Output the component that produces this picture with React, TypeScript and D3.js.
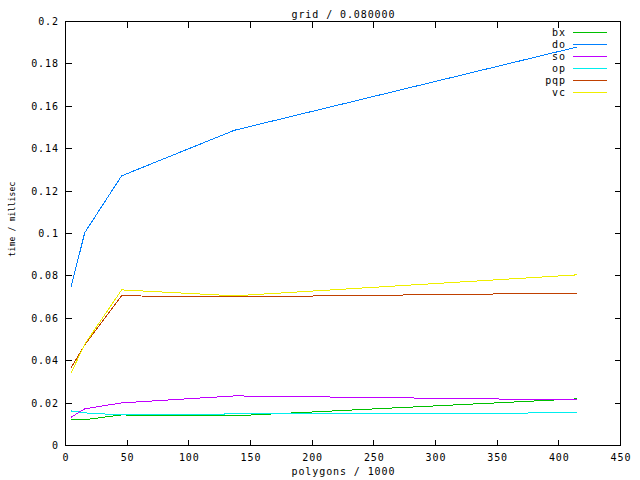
import React from "react";
import * as d3 from "d3";

const polygons = [4.5, 15.6, 45.5, 137, 415];
const bx = [0.0121, 0.0122, 0.0144, 0.014, 0.022];
const dO = [0.0747, 0.1004, 0.1272, 0.1487, 0.188];
const so = [0.0133, 0.0173, 0.0201, 0.0234, 0.0215];
const op = [0.0163, 0.0154, 0.0144, 0.0149, 0.0154];
const pqp = [0.0366, 0.0475, 0.0706, 0.0701, 0.0719];
const vc = [0.0342, 0.0478, 0.0734, 0.0706, 0.0805];

const seriesNames = ["bx", "do", "so", "op", "pqp", "vc"];
const seriesValues = [bx, dO, so, op, pqp, vc];
const seriesColors = ["#00c000", "#0080ff", "#c000ff", "#00eeee", "#c04000", "#eeee00"];

const xTicks = [0, 50, 100, 150, 200, 250, 300, 350, 400, 450];
const yTicks = [0, 0.02, 0.04, 0.06, 0.08, 0.1, 0.12, 0.14, 0.16, 0.18, 0.2];

const title = "grid / 0.080000";
const xLabel = "polygons / 1000";
const yLabel = "time / millisec";

const FONT = "'DejaVu Sans Mono', monospace";
const FS = 10;
const LS = 0.9;

export default function App() {
  const L = 65.5, R = 620.5, T = 21.5, B = 445.5;
  const x = d3.scaleLinear().domain([0, 450]).range([L, R]);
  const y = d3.scaleLinear().domain([0, 0.2]).range([B, T]);
  const line = d3
    .line<[number, number]>()
    .x((d) => x(d[0]))
    .y((d) => y(d[1]));
  const fmtY = (v: number) => (v === 0 ? "0" : String(+v.toFixed(2)));
  const tl = 6;

  return (
    <svg
      width={640}
      height={480}
      style={{ position: "fixed", left: 0, top: 0, background: "#fff" }}
      fontFamily={FONT}
    >
      <rect x={0} y={0} width={640} height={480} fill="#fff" />
      <g stroke="#000" strokeWidth={1} shapeRendering="crispEdges">
        {xTicks.map((t) => (
          <g key={"xt" + t}>
            <line x1={x(t)} x2={x(t)} y1={B} y2={B - tl} />
            <line x1={x(t)} x2={x(t)} y1={T} y2={T + tl} />
          </g>
        ))}
        {yTicks.map((t) => (
          <g key={"yt" + t}>
            <line x1={L} x2={L + tl} y1={y(t)} y2={y(t)} />
            <line x1={R} x2={R - tl} y1={y(t)} y2={y(t)} />
          </g>
        ))}
      </g>
      <g fontSize={FS} letterSpacing={LS} fill="#000">
        {xTicks.map((t) => (
          <text key={"xl" + t} x={x(t) + LS / 2} y={461} textAnchor="middle">
            {t}
          </text>
        ))}
        {yTicks.map((t) => (
          <text key={"yl" + t} x={58 + LS} y={y(t) + 3.5} textAnchor="end">
            {fmtY(t)}
          </text>
        ))}
      </g>
      <g fill="none" strokeWidth={1} shapeRendering="crispEdges">
        {seriesValues.map((vals, i) => (
          <path
            key={seriesNames[i]}
            d={line(polygons.map((p, j) => [p, vals[j]] as [number, number])) || ""}
            stroke={seriesColors[i]}
          />
        ))}
      </g>
      <g fontSize={FS} letterSpacing={LS}>
        {seriesNames.map((n, i) => {
          const ly = 32.5 + i * 12;
          return (
            <g key={"lg" + n}>
              <text x={565 + LS} y={ly + 3.5} textAnchor="end" fill="#000">
                {n}
              </text>
              <line
                x1={573}
                x2={607}
                y1={ly}
                y2={ly}
                stroke={seriesColors[i]}
                shapeRendering="crispEdges"
              />
            </g>
          );
        })}
      </g>
      <rect
        x={L}
        y={T}
        width={R - L}
        height={B - T}
        fill="none"
        stroke="#000"
        strokeWidth={1}
        shapeRendering="crispEdges"
      />
      <text x={(L + R) / 2 + LS / 2} y={17.5} textAnchor="middle" fontSize={FS} letterSpacing={LS} fill="#000">
        {title}
      </text>
      <text x={(L + R) / 2 + LS / 2} y={475} textAnchor="middle" fontSize={FS} letterSpacing={LS} fill="#000">
        {xLabel}
      </text>
      <text
        transform={`translate(14.5,219) rotate(-90)`}
        textAnchor="middle"
        fontSize={8}
        letterSpacing={0.2}
        fill="#000"
      >
        {yLabel}
      </text>
    </svg>
  );
}
